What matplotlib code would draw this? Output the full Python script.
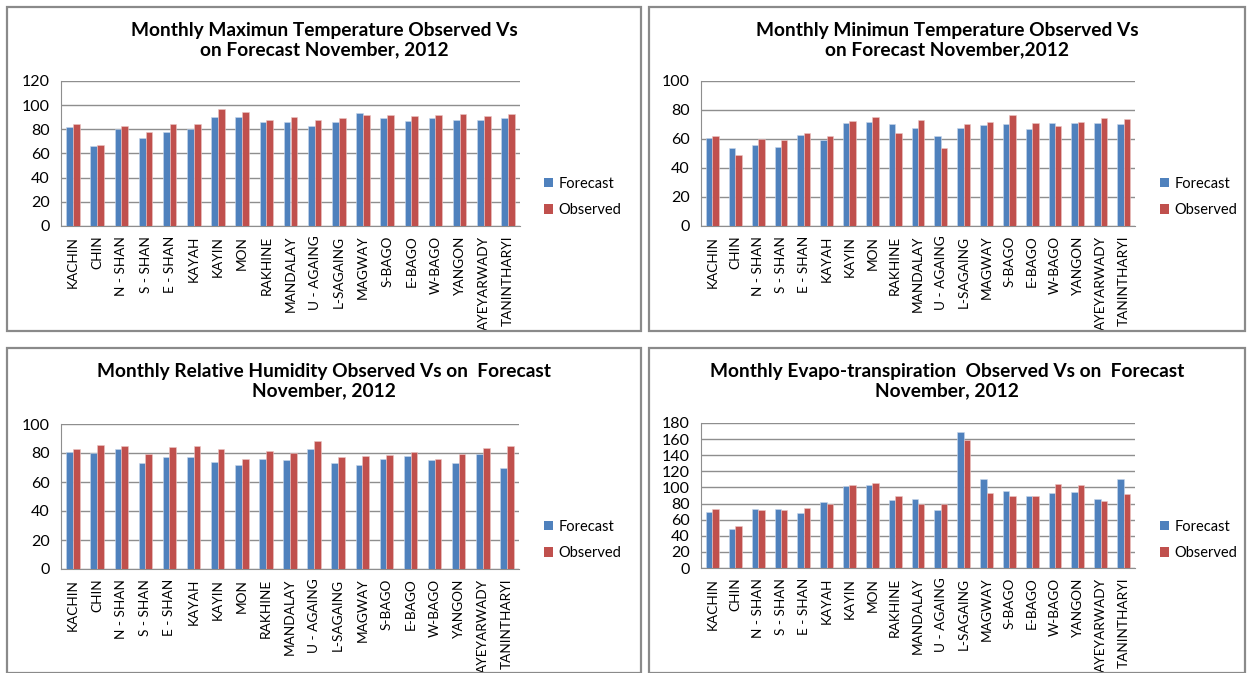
import matplotlib.pyplot as plt
from matplotlib.patches import Patch, Rectangle
import numpy as np

W, H = 1247, 673
plt.rcParams['font.family'] = ['Lato', 'DejaVu Sans']

stations = ['KACHIN', 'CHIN', 'N - SHAN', 'S - SHAN', 'E - SHAN', 'KAYAH', 'KAYIN',
            'MON', 'RAKHINE', 'MANDALAY', 'U - AGAING', 'L-SAGAING', 'MAGWAY',
            'S-BAGO', 'E-BAGO', 'W-BAGO', 'YANGON', 'AYEYARWADY', 'TANINTHARYI']

tmax_forecast = [82, 66, 80, 72.5, 78, 80, 90.5, 90, 86, 86, 83, 86, 93.5, 89.5, 87, 89.5, 88, 88, 89.5]
tmax_observed = [84, 67, 83, 77.5, 84, 84.5, 96.5, 94.6, 88, 90, 88, 89, 92, 92, 91.3, 92, 93, 91, 93]

tmin_forecast = [61, 54, 56, 54.5, 63, 59, 71, 71.7, 70, 67.6, 62, 67.6, 69.4, 70, 67, 71, 71, 71, 70]
tmin_observed = [62, 49, 60, 59, 64, 62, 72.4, 75.4, 64, 73, 54, 70, 72, 76.5, 71, 69, 71.5, 74.5, 73.5]

rh_forecast = [81, 80, 83, 73, 77, 77, 74, 72, 76, 75, 83, 73, 72, 76, 78, 75, 73, 79, 70]
rh_observed = [82.5, 85.5, 84.6, 79.5, 84, 85, 83, 75.6, 81.4, 80, 88.5, 77, 78, 78.6, 81, 75.6, 79, 83.4, 85]

et_forecast = [70, 48, 73, 73, 68.6, 82, 101.6, 102.5, 84, 85.5, 72, 169, 110, 96, 89, 92.5, 94, 86, 110]
et_observed = [73, 52, 72, 72, 74, 79, 103, 105, 90, 79, 79, 159.5, 92.5, 89, 90, 104.5, 102.5, 82.6, 91.7]

BLUE = '#4F81BD'
RED = '#C0504D'
GRID = '#8E8E8E'


def fig_box(x0, y0, x1, y1):
    # pixel box (top-left origin) -> figure fraction [left, bottom, width, height]
    return [x0 / W, 1 - y1 / H, (x1 - x0) / W, (y1 - y0) / H]


panels = [
    dict(frame=(7, 7, 641, 331), axes=(61, 81, 520, 226), legend=(531, 197),
         title='Monthly Maximun Temperature Observed Vs\non Forecast November, 2012',
         forecast=tmax_forecast, observed=tmax_observed, ymax=120, step=20),
    dict(frame=(649, 7, 1245, 331), axes=(701, 81, 1135, 226), legend=(1147, 197),
         title='Monthly Minimun Temperature Observed Vs\non Forecast November,2012',
         forecast=tmin_forecast, observed=tmin_observed, ymax=100, step=20),
    dict(frame=(7, 348, 641, 673), axes=(61, 424, 519, 569), legend=(531, 540),
         title='Monthly Relative Humidity Observed Vs on  Forecast\nNovember, 2012',
         forecast=rh_forecast, observed=rh_observed, ymax=100, step=20),
    dict(frame=(649, 348, 1245, 673), axes=(701, 423, 1135, 568), legend=(1147, 540),
         title='Monthly Evapo-transpiration  Observed Vs on  Forecast\nNovember, 2012',
         forecast=et_forecast, observed=et_observed, ymax=180, step=20),
]

fig = plt.figure(figsize=(W / 100, H / 100), dpi=100)

x = np.arange(len(stations))
bw = 0.28

for p in panels:
    fx0, fy0, fx1, fy1 = p['frame']
    fig.patches.append(Rectangle((fx0 / W, 1 - fy1 / H), (fx1 - fx0) / W, (fy1 - fy0) / H,
                                 transform=fig.transFigure, fill=False,
                                 edgecolor='#8A8A8A', linewidth=1.6))

    ax = fig.add_axes(fig_box(*p['axes']))
    ax.bar(x - bw / 2, p['forecast'], bw, color=BLUE, edgecolor='#C9D7EA', linewidth=0.4,
           zorder=3, label='Forecast')
    ax.bar(x + bw / 2, p['observed'], bw, color=RED, edgecolor='#EBC6C5', linewidth=0.4,
           zorder=3, label='Observed')

    ax.set_xlim(-0.5, len(stations) - 0.5)
    ax.set_ylim(0, p['ymax'])
    ax.set_yticks(np.arange(0, p['ymax'] + 1, p['step']))
    ax.set_xticks(x)
    ax.set_xticklabels(stations, rotation=90, fontsize=9.8)
    ax.tick_params(axis='y', labelsize=11.5, length=0, pad=8)
    ax.tick_params(axis='x', length=0, pad=7)
    ax.yaxis.grid(True, color=GRID, linewidth=1.0, zorder=0)
    for side in ('top', 'right'):
        ax.spines[side].set_visible(False)
    ax.spines['left'].set_color(GRID)
    ax.spines['bottom'].set_color(GRID)

    tcx = (fx0 + fx1) / 2
    fig.text(tcx / W, 1 - (fy0 + 33) / H, p['title'], ha='center', va='center',
             fontsize=13.8, fontweight='bold', linespacing=1.15)

    lx, ly = p['legend']
    handles = [Patch(facecolor=BLUE), Patch(facecolor=RED)]
    fig.legend(handles, ['Forecast', 'Observed'], loc='center left',
               bbox_to_anchor=(lx / W, 1 - ly / H), frameon=False, fontsize=10.5,
               handlelength=0.6, handleheight=0.6, handletextpad=0.4, labelspacing=0.85)

fig.savefig('out.png', dpi=100, facecolor='white')
